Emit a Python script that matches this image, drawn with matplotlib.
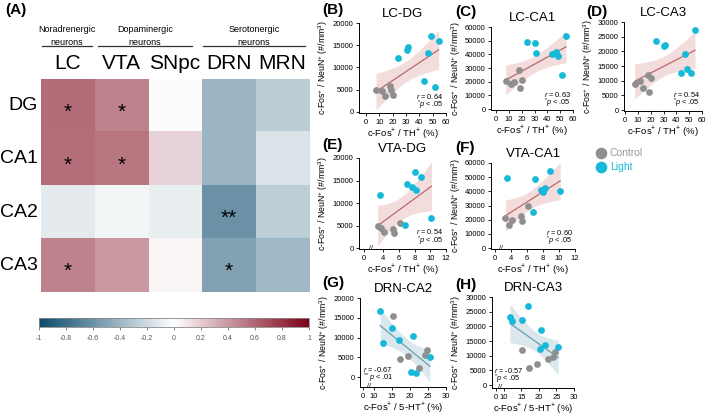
import numpy as np
import matplotlib
matplotlib.use('Agg')
import matplotlib.pyplot as plt
import matplotlib.transforms as mtrans
from matplotlib.colors import LinearSegmentedColormap

plt.rcParams['font.family'] = ['Liberation Sans', 'DejaVu Sans']
plt.rcParams['mathtext.fontset'] = 'custom'
plt.rcParams['mathtext.rm'] = 'Liberation Sans'
plt.rcParams['mathtext.it'] = 'Liberation Sans:italic'

# ---------------- data ----------------
regions = ['DG', 'CA1', 'CA2', 'CA3']
nuclei = ['LC', 'VTA', 'SNpc', 'DRN', 'MRN']
r_DG = [0.64, 0.54, -0.01, -0.45, -0.30]
r_CA1 = [0.63, 0.60, 0.18, -0.45, -0.17]
r_CA2 = [-0.12, -0.05, -0.10, -0.67, -0.29]
r_CA3 = [0.54, 0.45, 0.04, -0.57, -0.43]
stars = {(0, 0): '*', (0, 1): '*', (1, 0): '*', (1, 1): '*', (2, 3): '**', (3, 0): '*', (3, 3): '*'}
groups = ['Noradrenergic\nneurons', 'Dopaminergic\nneurons', 'Serotonergic\nneurons']

# LC (% c-Fos+/TH+)
lc_ctrl = [7.5, 12, 14, 18, 19, 20.5]
lc_light = [24, 30.5, 31.5, 43.5, 46.5, 48.5, 51.5, 54.5]
lcdg_ctrl = [5000, 4650, 3700, 5900, 4950, 3750]
lcdg_light = [12100, 13900, 14500, 7000, 13200, 17100, 5700, 16000]
lcca1_ctrl = [20500, 18300, 19500, 28500, 15100, 21200]
lcca1_light = [49000, 48000, 40700, 40000, 42000, 39000, 24600, 53600]
lcca3_ctrl = [9000, 9900, 7400, 12000, 6000, 11000]
lcca3_light = [23600, 21700, 22300, 12800, 19000, 14000, 12500, 27400]

# VTA (% c-Fos+/TH+)
vta_ctrl = [3.3, 3.7, 4.1, 5.25, 5.35, 6.1]
vta_light = [3.55, 6.75, 7.05, 7.7, 8.05, 8.2, 8.85, 10.15]
vtadg_ctrl = [4960, 4370, 3500, 4200, 3400, 5600]
vtadg_light = [11800, 5100, 14200, 13600, 16800, 13000, 15800, 6700]
vtaca1_ctrl = [21400, 16000, 20000, 22400, 18800, 29600]
vtaca1_light = [49600, 25200, 48500, 41000, 39700, 42600, 54300, 40200]

# DRN (% c-Fos+/5-HT+)
drn_ctrl = [15.2, 17.2, 19.45, 22.6, 24.1, 24.6]
drn_light = [11.7, 12.4, 15.1, 16.9, 20.4, 20.7, 21.65, 25.5]
drnca2_ctrl = [15400, 4600, 5300, 2400, 5700, 6800]
drnca2_light = [16800, 8700, 12400, 9300, 1300, 10500, 1000, 5100]
drnca3_ctrl = [11900, 5900, 7300, 8900, 9700, 11100]
drnca3_light = [23300, 21800, 22100, 27000, 12300, 18700, 13800, 12800]

W, H = 709, 415
fig = plt.figure(figsize=(W / 100, H / 100), dpi=100)


def px_axes(l, t, r, b):
    return fig.add_axes([l / W, 1 - b / H, (r - l) / W, (b - t) / H])


def ftext(x, y, s, **kw):
    fig.text(x / W, 1 - y / H, s, **kw)


# ---------------- (A) heatmap ----------------
cmap = LinearSegmentedColormap.from_list('rb', ['#0b4a6c', '#ffffff', '#7c0016'])
mat = np.array([r_DG, r_CA1, r_CA2, r_CA3])
axh = px_axes(41, 79, 309, 292)
axh.imshow(mat, cmap=cmap, vmin=-1, vmax=1, aspect='auto', alpha=0.9)
for (i, j), s in stars.items():
    axh.text(j, i + 0.12, s, ha='center', va='center', fontsize=15)
axh.set_xticks([])
axh.set_yticks([])
for sp in axh.spines.values():
    sp.set_visible(False)
for j, name in enumerate(nuclei):
    axh.text(j, -0.8, name, ha='center', va='center', fontsize=15)
for i, name in enumerate(regions):
    axh.text(-0.555, i, name, ha='right', va='center', fontsize=14)

ftext(5, 10, '(A)', fontsize=11, fontweight='bold', va='center')
for name, (x0, x1) in zip(groups, [(42, 92), (98, 192), (203, 305)]):
    ftext((x0 + x1) / 2, 36, name, ha='center', va='center', fontsize=6.5,
          linespacing=1.5)
    fig.add_artist(plt.Line2D([x0 / W, x1 / W], [1 - 46 / H, 1 - 46 / H],
                              color='#333333', lw=0.9))

axc = px_axes(39, 318, 309, 327)
sm = plt.cm.ScalarMappable(cmap=cmap, norm=plt.Normalize(-1, 1))
cb = fig.colorbar(sm, cax=axc, orientation='horizontal')
cticks = np.round(np.arange(-1, 1.01, 0.2), 1)
cb.set_ticks(cticks)
cb.set_ticklabels(['-1' if t == -1 else '1' if t == 1 else '0' if t == 0 else ('%g' % t)
                   for t in cticks])
cb.ax.tick_params(labelsize=5, colors='#555555', length=2, width=0.5)
cb.outline.set_edgecolor('#888888')
cb.outline.set_linewidth(0.6)

# ---------------- scatter panels ----------------
GRAY = '#8f8f8f'
CYAN = '#17b9d9'
T12 = 2.179


def scatter_panel(box, xlim, ylim, xc, yc, xl, yl, xticks, xticklabels, yticks,
                  title, letter, letter_xy, xlabel, rtxt, ptxt, neg=False, brk=None):
    ax = px_axes(*box)
    x = np.array(xc + xl, float)
    y = np.array(yc + yl, float)
    b, a = np.polyfit(x, y, 1)
    xs = np.linspace(x.min(), x.max(), 100)
    n = len(x)
    res = y - (a + b * x)
    s = np.sqrt(np.sum(res ** 2) / (n - 2))
    se = s * np.sqrt(1 / n + (xs - x.mean()) ** 2 / np.sum((x - x.mean()) ** 2))
    fit = a + b * xs
    lc, fc = ('#6b9cb3', '#dae8ee') if neg else ('#b96a6c', '#f2dcdc')
    ax.fill_between(xs, fit - T12 * se, fit + T12 * se, color=fc, lw=0, zorder=1)
    ax.plot(xs, fit, color=lc, lw=0.9, zorder=2)
    ax.scatter(xc, yc, s=24, color=GRAY, lw=0, zorder=3)
    ax.scatter(xl, yl, s=24, color=CYAN, lw=0, zorder=3)
    ax.set_xlim(*xlim)
    ax.set_ylim(*ylim)
    ax.set_xticks(xticks)
    ax.set_xticklabels(xticklabels)
    ax.set_yticks(yticks)
    ax.set_yticklabels(['%d' % v for v in yticks])
    for sp in ['top', 'right']:
        ax.spines[sp].set_visible(False)
    for sp in ['left', 'bottom']:
        ax.spines[sp].set_linewidth(0.7)
    ax.tick_params(labelsize=5.5, length=2.5, width=0.6, pad=1.5)
    ax.set_xlabel(xlabel, fontsize=6.8, labelpad=0.5)
    ax.set_ylabel(r'c-Fos$^{+}$ / NeuN$^{+}$ (#/mm$^{3}$)', fontsize=6.3, labelpad=1.5)
    ax.set_title(title, fontsize=9.5, pad=4)
    ftext(letter_xy[0], letter_xy[1], letter, fontsize=11, fontweight='bold', va='center')
    if neg:
        ax.text(0.03, 0.17, rtxt, transform=ax.transAxes, fontsize=5.3, ha='left')
        ax.text(0.03, 0.07, ptxt, transform=ax.transAxes, fontsize=5.3, ha='left')
    else:
        ax.text(0.97, 0.16, rtxt, transform=ax.transAxes, fontsize=5.3, ha='right')
        ax.text(0.97, 0.06, ptxt, transform=ax.transAxes, fontsize=5.3, ha='right')
    if brk is not None:
        tr = mtrans.blended_transform_factory(ax.transData, ax.transAxes)
        ax.text(brk, 0.005, '//', transform=tr, fontsize=5, ha='center', va='center',
                clip_on=False)
    return ax


lab_th = r'c-Fos$^{+}$ / TH$^{+}$ (%)'
lab_ht = r'c-Fos$^{+}$ / 5-HT$^{+}$ (%)'
t60 = list(range(0, 61, 10))

scatter_panel((359, 23, 446, 113), (-5.25, 60), (-225, 20000), lc_ctrl, lcdg_ctrl,
              lc_light, lcdg_light, t60, [str(t) for t in t60], list(range(0, 20001, 5000)),
              'LC-DG', '(B)', (322, 10), lab_th, r'$r$ = 0.64', r'$^{*}$$p$ < .05')
scatter_panel((491, 27, 573, 110), (-3.9, 60), (-700, 60000), lc_ctrl, lcca1_ctrl,
              lc_light, lcca1_light, t60, [str(t) for t in t60], list(range(0, 60001, 10000)),
              'LC-CA1', '(C)', (455, 12), lab_th, r'$r$ = 0.63', r'$^{*}$$p$ < .05')
scatter_panel((624, 22, 702, 111), (-0.8, 60), (-300, 30000), lc_ctrl, lcca3_ctrl,
              lc_light, lcca3_light, t60, [str(t) for t in t60], list(range(0, 30001, 5000)),
              'LC-CA3', '(D)', (586, 12), lab_th, r'$r$ = 0.54', r'$^{*}$$p$ < .05')

tv = [1.55, 4, 6, 8, 10, 12]
tvl = ['0', '4', '6', '8', '10', '12']
scatter_panel((359, 158, 446, 249), (0.92, 12), (-220, 20000), vta_ctrl, vtadg_ctrl,
              vta_light, vtadg_light, tv, tvl, list(range(0, 20001, 5000)),
              'VTA-DG', '(E)', (322, 145), lab_th, r'$r$ = 0.54', r'$^{*}$$p$ < .05', brk=2.4)
tv2 = [2.0, 4, 6, 8, 10, 12]
scatter_panel((491, 163, 575, 249), (1.5, 12), (-700, 60000), vta_ctrl, vtaca1_ctrl,
              vta_light, vtaca1_light, tv2, tvl, list(range(0, 60001, 10000)),
              'VTA-CA1', '(F)', (455, 148), lab_th, r'$r$ = 0.60', r'$^{*}$$p$ < .05', brk=2.8)

td = [7.0, 10, 15, 20, 25, 30]
tdl = ['0', '10', '15', '20', '25', '30']
scatter_panel((360, 298, 446, 387), (6.1, 30), (-2500, 20000), drn_ctrl, drnca2_ctrl,
              drn_light, drnca2_light, td, tdl, list(range(0, 20001, 5000)),
              'DRN-CA2', '(G)', (322, 283), lab_ht, r'$r$ = -0.67', r'$^{**}$$p$ < .01',
              neg=True, brk=8.5)
td2 = [7.6, 10, 15, 20, 25, 30]
scatter_panel((492, 297, 574, 388), (6.6, 30), (-1000, 30000), drn_ctrl, drnca3_ctrl,
              drn_light, drnca3_light, td2, tdl, list(range(0, 30001, 5000)),
              'DRN-CA3', '(H)', (455, 285), lab_ht, r'$r$ = -0.57', r'$^{*}$$p$ < .05',
              neg=True, brk=8.9)

# legend
legax = px_axes(590, 140, 680, 180)
legax.set_xlim(590, 680)
legax.set_ylim(180, 140)
legax.axis('off')
legax.scatter([601], [153], s=70, color=GRAY, lw=0)
legax.scatter([601], [167], s=70, color=CYAN, lw=0)
legax.text(610, 153, 'Control', color='#999999', fontsize=7.5, va='center')
legax.text(610, 167, 'Light', color=CYAN, fontsize=7.5, va='center')

fig.savefig('out.png', dpi=100)
